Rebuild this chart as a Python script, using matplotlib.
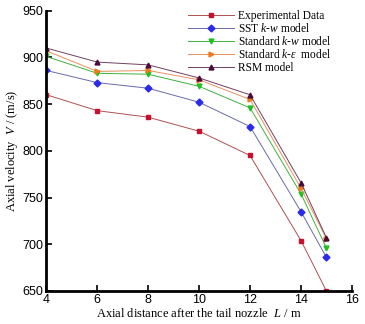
import matplotlib
matplotlib.use("Agg")
import matplotlib.pyplot as plt

plt.rcParams['mathtext.fontset'] = 'custom'
plt.rcParams['mathtext.rm'] = 'Liberation Serif'
plt.rcParams['mathtext.it'] = 'Liberation Serif:italic'

distance = [4, 6, 8, 10, 12, 14, 15]
experimental = [860, 843, 836, 821, 795, 704, 650]
sst_kw = [886, 873, 867, 852, 826, 735, 686]
standard_kw = [901, 883, 882, 869, 846, 754, 696]
standard_ke = [907, 885, 886, 876, 855, 760, 706]
rsm = [910, 895, 892, 878, 860, 766, 707]

x_ticks = [4, 6, 8, 10, 12, 14, 16]
y_ticks = [650, 700, 750, 800, 850, 900, 950]

series = [
    ("Experimental Data", experimental, "#b05050", "#c8102e", "s"),
    ("SST $k$-$w$ model", sst_kw, "#6a6aaa", "#2a2aee", "D"),
    ("Standard $k$-$w$ model", standard_kw, "#40b040", "#20c020", "v"),
    ("Standard $k$-$\\varepsilon$  model", standard_ke, "#e89060", "#f07818", ">"),
    ("RSM model", rsm, "#704060", "#4a0a3a", "^"),
]

fig = plt.figure(figsize=(3.65, 3.24), dpi=100)
ax = fig.add_axes([0.127, 0.102, 0.837, 0.865])

for label, values, lc, mc, mk in series:
    ax.plot(distance, values, color=lc, lw=0.7, marker=mk, markersize=3.5,
            markerfacecolor=mc, markeredgecolor=mc, label=label)

ax.set_xlim(4, 16)
ax.set_ylim(650, 950)
ax.set_xticks(x_ticks)
ax.set_yticks(y_ticks)
ax.tick_params(direction='in', length=4, width=1.2, labelsize=9, pad=2)
for lab in ax.get_xticklabels() + ax.get_yticklabels():
    lab.set_fontfamily('Liberation Sans')
for side in ('top', 'right'):
    ax.spines[side].set_visible(False)
for side in ('left', 'bottom'):
    ax.spines[side].set_linewidth(2)

ax.set_xlabel("Axial distance after the tail nozzle  $L$ / m",
              fontfamily='Liberation Serif', fontsize=9, labelpad=1)
ax.set_ylabel("Axial velocity  $V$ / (m/s)",
              fontfamily='Liberation Serif', fontsize=9, labelpad=2)

leg = ax.legend(loc='upper left', bbox_to_anchor=(0.455, 1.012), frameon=False,
                prop={'family': 'Liberation Serif', 'size': 8.3},
                handlelength=4.0, handletextpad=0.35, labelspacing=0.02,
                borderaxespad=0.0, borderpad=0.2)

fig.savefig("out.png", dpi=100)
